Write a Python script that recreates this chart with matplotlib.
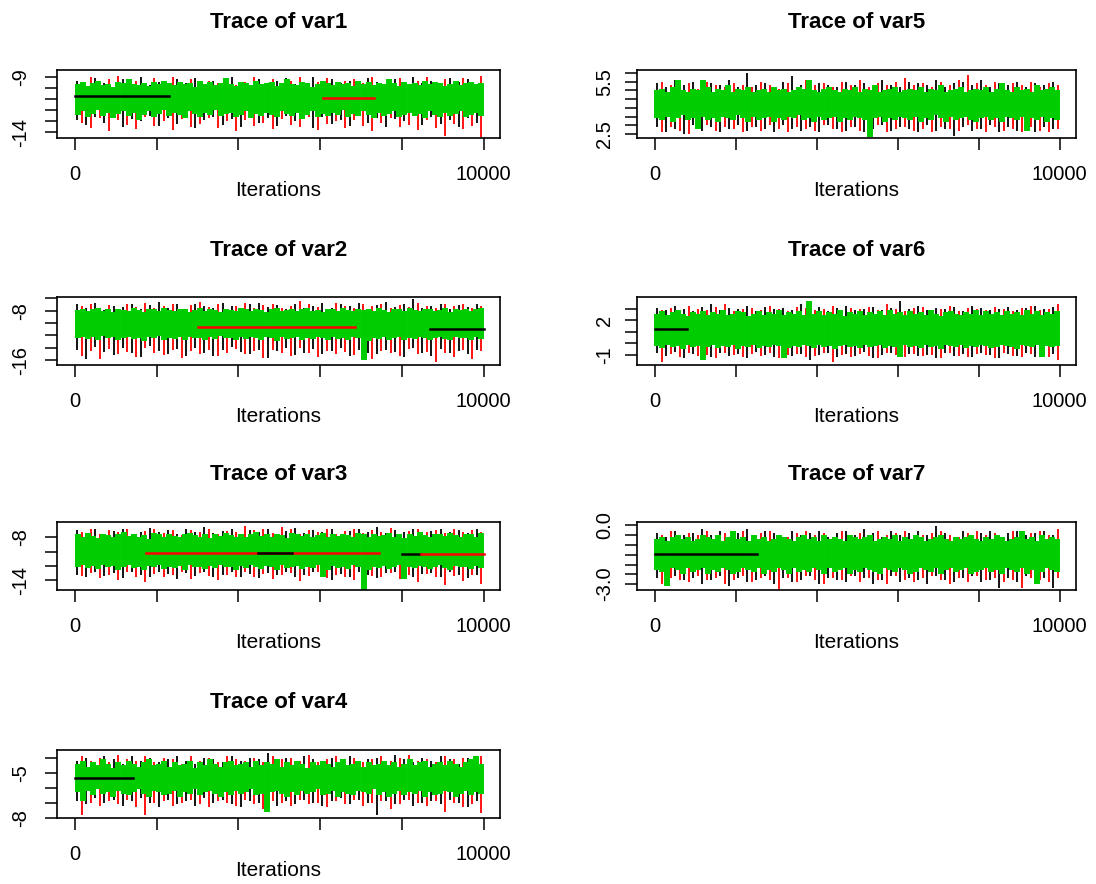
import numpy as np
import matplotlib
matplotlib.use("Agg")
import matplotlib.pyplot as plt

plt.rcParams["font.family"] = ["Liberation Sans", "DejaVu Sans"]

# 10000 iterations, three chains per variable: black, red, green.
# At this width every chain is a dense band, so each chain is kept as the
# highest / lowest value it reaches in consecutive blocks of iterations.
n_iter = 10000
x_ticks = [0, 2000, 4000, 6000, 8000, 10000]
x_tick_labels = ["0", "", "", "", "", "10000"]

var1_green_hi = [-9.6, -9.4, -9.8, -9.5, -9.3, -9.7, -9.6, -9.9, -9.4, -9.5,
                 -9.2, -9.6, -9.7, -9.5, -9.8, -9.4, -9.6, -9.3, -9.5, -9.7,
                 -9.4, -9.6, -9.5, -9.9, -9.3, -9.6, -9.4, -9.7, -9.5, -9.1,
                 -9.6, -9.8, -9.4, -9.5, -9.7, -9.3, -9.6, -9.5, -9.4, -9.8,
                 -9.5, -9.2, -9.6, -9.7, -9.4, -9.5, -9.9, -9.6, -9.3, -9.5,
                 -9.7, -9.4, -9.6, -9.5, -9.8, -9.3, -9.6, -9.4, -9.7, -9.5,
                 -9.6, -9.2, -9.5, -9.8, -9.4, -9.6, -9.5, -9.7, -9.3, -9.6,
                 -9.4, -9.5, -9.8, -9.6, -9.3, -9.7, -9.5, -9.4, -9.6, -9.5]
var1_green_lo = [-12.4, -12.1, -12.6, -12.3, -12.0, -12.5, -12.2, -12.7, -12.3, -12.1,
                 -12.5, -12.2, -12.9, -12.4, -12.1, -12.6, -12.3, -12.0, -12.5, -12.2,
                 -12.4, -12.7, -12.1, -12.3, -12.6, -12.2, -12.4, -12.0, -12.5, -12.3,
                 -12.2, -12.6, -12.4, -12.1, -12.7, -12.3, -12.5, -12.2, -12.4, -12.6,
                 -12.1, -12.3, -12.5, -12.2, -12.8, -12.4, -12.1, -12.6, -12.3, -12.5,
                 -12.2, -12.4, -12.0, -12.6, -12.3, -12.5, -12.1, -12.4, -12.7, -12.2,
                 -12.5, -12.3, -12.1, -12.6, -12.4, -12.2, -12.5, -12.3, -12.7, -12.1,
                 -12.4, -12.6, -12.2, -12.5, -12.3, -12.1, -12.6, -12.4, -12.2, -12.5]
var1_black_hi = [-9.3, -9.8, -9.1, -9.5, -10.0, -9.2, -9.6, -9.0, -9.7, -9.4,
                 -9.9, -9.2, -9.5, -9.1, -9.8, -9.3, -9.6, -9.0, -9.4, -9.7,
                 -9.2, -9.9, -9.3, -9.1, -9.6, -9.4, -9.0, -9.8, -9.2, -9.5,
                 -9.3, -9.7, -9.1, -9.4, -9.9, -9.2, -9.6, -9.0, -9.5, -9.3,
                 -9.8, -9.1, -9.4, -9.2, -9.6]
var1_black_lo = [-12.9, -13.3, -12.6, -13.1, -12.4, -13.5, -12.8, -13.0, -12.5, -13.4,
                 -12.7, -13.2, -12.3, -13.6, -12.9, -12.6, -13.3, -12.8, -13.5, -12.4,
                 -13.1, -12.7, -13.4, -12.5, -13.0, -12.8, -13.6, -12.6, -13.2, -12.9,
                 -13.4, -12.5, -13.1, -12.7, -13.5, -12.8, -13.0, -12.4, -13.3, -12.6,
                 -13.2, -12.9, -13.5, -12.7, -13.1]
var1_red_hi = [-9.5, -9.0, -9.7, -9.2, -8.9, -9.6, -9.3, -9.8, -9.1, -9.4,
               -9.0, -9.6, -9.2, -9.9, -9.3, -9.5, -9.1, -9.7, -9.4, -9.0,
               -9.8, -9.2, -9.5, -9.3, -9.0, -9.6, -9.4, -9.1, -9.7, -9.3,
               -9.2, -9.5, -9.0, -9.8, -9.4, -9.1, -9.6, -9.3, -9.0, -9.5,
               -9.2, -9.7, -9.1, -9.4, -8.9]
var1_red_lo = [-13.1, -13.6, -12.7, -13.9, -12.9, -13.3, -13.7, -12.6, -13.4, -13.0,
               -13.8, -12.8, -13.5, -13.2, -12.7, -13.6, -13.0, -13.9, -12.9, -13.4,
               -13.1, -13.7, -12.8, -13.3, -13.5, -12.6, -13.8, -13.2, -13.0, -13.6,
               -12.9, -13.4, -13.9, -13.1, -12.7, -13.5, -13.3, -13.8, -12.9, -13.6,
               -14.3, -13.2, -13.7, -13.4, -14.4]

var2_green_hi = [-7.9, -7.7, -8.1, -7.8, -7.6, -8.0, -7.8, -8.3, -7.7, -7.9,
                 -8.0, -7.6, -7.9, -8.2, -7.8, -7.7, -8.0, -7.5, -7.9, -8.1,
                 -7.8, -7.7, -8.2, -7.9, -7.6, -8.0, -7.8, -7.9, -8.3, -7.7,
                 -7.9, -8.0, -7.6, -7.8, -8.1, -7.7, -7.9, -8.2, -7.8, -7.6,
                 -8.0, -7.9, -7.7, -8.1, -7.8, -7.6, -8.0, -7.9, -8.2, -7.7,
                 -7.8, -8.0, -7.6, -7.9, -8.1, -7.7, -7.9, -7.8, -8.0, -7.6,
                 -7.9, -8.2, -7.7, -7.8, -8.0, -7.6, -7.9, -8.1, -7.8, -7.7,
                 -8.0, -7.9, -7.6, -8.2, -7.8, -7.9, -7.7, -8.0, -7.8, -7.6]
var2_green_lo = [-12.4, -12.2, -12.6, -12.3, -12.7, -12.1, -12.5, -12.3, -12.8, -12.4,
                 -12.2, -12.6, -12.4, -12.9, -12.3, -12.5, -12.1, -12.7, -12.4, -12.6,
                 -12.3, -12.8, -12.2, -12.5, -12.4, -12.7, -12.3, -12.6, -12.1, -12.5,
                 -12.4, -12.8, -12.3, -12.6, -12.2, -12.5, -12.7, -12.3, -12.4, -12.9,
                 -12.2, -12.6, -12.5, -12.3, -12.7, -12.4, -12.6, -12.2, -12.5, -12.8,
                 -12.3, -12.6, -12.4, -12.7, -12.2, -12.5, -16.0, -12.9, -12.4, -12.6,
                 -12.3, -12.7, -12.5, -12.2, -12.8, -12.4, -12.6, -12.3, -12.5, -12.7,
                 -12.4, -12.2, -12.6, -12.8, -12.3, -12.5, -12.4, -12.7, -12.3, -12.6]
var2_black_hi = [-7.0, -7.6, -6.8, -7.9, -7.2, -7.4, -6.9, -7.7, -7.1, -6.6,
                 -7.5, -7.0, -7.8, -6.9, -7.3, -7.6, -6.7, -7.2, -7.9, -7.0,
                 -6.8, -7.4, -7.1, -7.7, -6.9, -7.5, -7.2, -6.7, -7.6, -7.0,
                 -7.3, -6.8, -7.8, -7.1, -6.6, -7.4, -7.0, -6.2, -7.5, -7.2,
                 -6.9, -7.7, -7.1, -7.4, -7.0]
var2_black_lo = [-14.3, -15.8, -13.9, -14.7, -15.2, -14.1, -14.9, -15.5, -13.8, -14.6,
                 -15.0, -14.2, -15.4, -14.0, -14.8, -15.3, -14.4, -13.9, -14.7, -15.1,
                 -14.3, -15.6, -14.5, -14.0, -15.2, -14.8, -14.2, -15.0, -14.6, -14.1,
                 -15.4, -14.4, -14.9, -15.1, -14.3, -14.7, -15.5, -14.0, -14.8, -15.3,
                 -14.2, -14.9, -14.5, -15.0, -14.4]
var2_red_hi = [-7.3, -6.9, -7.6, -7.1, -7.8, -7.0, -7.4, -6.8, -7.5, -7.2,
               -6.9, -7.7, -7.1, -6.6, -7.4, -7.0, -7.8, -7.2, -6.7, -7.5,
               -7.1, -6.9, -7.6, -7.3, -6.4, -7.0, -7.4, -7.7, -6.8, -7.2,
               -7.5, -7.0, -7.3, -6.9, -7.6, -7.1, -7.4, -6.8, -7.2, -7.5,
               -7.0, -7.3, -6.9, -7.6, -7.2]
var2_red_lo = [-15.3, -14.5, -15.9, -14.2, -15.0, -14.7, -15.5, -14.1, -14.9, -15.2,
               -14.4, -15.7, -14.6, -15.0, -14.3, -15.4, -14.8, -14.2, -15.1, -14.6,
               -15.6, -14.4, -14.9, -15.3, -14.1, -14.8, -15.5, -14.5, -15.0, -14.7,
               -15.2, -14.3, -15.8, -14.6, -14.9, -15.4, -14.2, -15.1, -14.7, -16.3,
               -14.9, -15.5, -14.4, -15.8, -14.6]

var3_green_hi = [-7.6, -7.9, -7.4, -7.8, -8.1, -7.5, -7.7, -8.0, -7.6, -7.3,
                 -7.8, -7.5, -7.9, -7.7, -8.2, -7.4, -7.6, -7.9, -7.5, -7.8,
                 -8.0, -7.6, -7.4, -7.7, -7.9, -7.5, -8.1, -7.6, -7.8, -7.4,
                 -7.7, -7.9, -7.5, -8.0, -7.6, -7.3, -7.8, -7.6, -7.9, -7.5,
                 -7.7, -8.1, -7.4, -7.6, -7.8, -7.5, -7.9, -7.7, -7.4, -8.0,
                 -7.6, -7.8, -7.5, -7.7, -7.9, -7.4, -7.6, -8.0, -7.5, -7.8,
                 -7.7, -7.4, -7.9, -7.6, -8.1, -7.5, -7.8, -7.3, -7.7, -7.9,
                 -7.6, -7.5, -7.8, -7.4, -7.7, -8.0, -7.5, -7.6, -7.9, -7.4]
var3_green_lo = [-12.1, -11.9, -12.3, -12.0, -12.4, -11.8, -12.2, -12.0, -12.5, -12.1,
                 -11.9, -12.3, -12.1, -12.6, -12.0, -12.2, -11.8, -12.4, -12.1, -12.3,
                 -12.0, -12.5, -11.9, -12.2, -12.1, -12.4, -12.0, -12.3, -11.8, -12.2,
                 -12.1, -12.5, -12.0, -12.3, -11.9, -12.2, -12.4, -12.0, -12.1, -12.6,
                 -11.9, -12.3, -12.2, -12.0, -12.4, -12.1, -12.3, -11.9, -13.5, -12.5,
                 -12.0, -12.3, -12.1, -12.4, -11.9, -12.2, -15.3, -12.6, -12.1, -12.3,
                 -12.0, -12.4, -12.2, -11.9, -13.8, -12.1, -12.3, -12.0, -12.2, -12.4,
                 -12.1, -11.9, -12.3, -12.5, -12.0, -12.2, -12.1, -12.4, -12.0, -12.3]
var3_black_hi = [-7.0, -7.4, -6.8, -7.6, -7.1, -6.9, -7.5, -7.2, -6.7, -7.3,
                 -7.0, -7.6, -6.9, -7.2, -6.6, -7.4, -7.1, -6.8, -7.5, -7.0,
                 -7.3, -6.9, -7.6, -7.1, -6.7, -7.4, -7.0, -7.2, -6.8, -7.5,
                 -7.1, -6.9, -7.3, -6.6, -7.4, -7.0, -7.2, -6.8, -7.5, -7.1,
                 -6.9, -7.3, -7.0, -7.4, -6.8]
var3_black_lo = [-13.2, -13.6, -12.9, -13.4, -13.0, -13.7, -12.8, -13.3, -13.5, -12.9,
                 -13.1, -13.8, -13.0, -13.4, -12.8, -13.6, -13.2, -12.9, -13.5, -13.1,
                 -13.7, -13.0, -13.3, -12.8, -13.6, -13.2, -12.9, -13.4, -14.0, -13.1,
                 -13.5, -12.9, -13.3, -13.7, -13.0, -12.8, -13.4, -13.6, -13.1, -13.0,
                 -13.5, -12.9, -13.3, -13.7, -13.2]
var3_red_hi = [-7.2, -6.9, -7.5, -7.0, -7.3, -6.8, -7.6, -7.1, -6.9, -7.4,
               -7.0, -7.7, -7.0, -7.2, -6.9, -7.5, -7.1, -7.3, -6.4, -7.0,
               -6.8, -7.4, -6.5, -6.9, -7.6, -7.0, -7.3, -6.8, -7.5, -7.1,
               -6.9, -7.4, -7.0, -7.2, -6.7, -7.5, -7.1, -6.8, -7.3, -7.0,
               -7.4, -6.9, -7.2, -7.0, -7.3]
var3_red_lo = [-13.4, -13.0, -13.7, -13.2, -13.9, -12.9, -13.5, -14.2, -13.1, -13.6,
               -13.3, -12.9, -13.8, -13.0, -13.4, -14.0, -13.2, -13.6, -12.9, -13.5,
               -13.1, -13.8, -13.3, -13.0, -14.1, -13.4, -12.9, -13.7, -13.2, -13.5,
               -13.9, -13.1, -13.4, -13.6, -13.0, -13.8, -13.3, -14.3, -13.1, -13.6,
               -14.7, -13.4, -14.1, -13.2, -14.5]

var4_green_hi = [-4.4, -4.2, -4.6, -4.3, -4.5, -4.1, -4.4, -4.7, -4.3, -4.5,
                 -4.2, -4.4, -4.6, -4.3, -4.1, -4.5, -4.4, -4.2, -4.6, -4.3,
                 -4.5, -4.4, -4.2, -4.7, -4.3, -4.5, -4.1, -4.4, -4.6, -4.3,
                 -4.2, -4.5, -4.4, -4.3, -4.6, -4.2, -4.5, -4.3, -4.4, -4.1,
                 -4.6, -4.3, -4.5, -4.2, -4.4, -4.7, -4.3, -4.5, -4.2, -4.4,
                 -4.6, -4.3, -4.1, -4.5, -4.4, -4.2, -4.6, -4.3, -4.5, -4.4,
                 -4.2, -4.5, -4.3, -4.6, -4.4, -4.1, -4.5, -4.3, -4.2, -4.6,
                 -4.4, -4.3, -4.5, -4.2, -4.4, -4.6, -4.3, -4.1, -3.9, -4.4]
var4_green_lo = [-6.3, -6.9, -6.2, -6.5, -6.1, -6.4, -6.3, -6.6, -6.2, -6.4,
                 -6.5, -6.3, -6.1, -6.4, -6.6, -6.2, -6.3, -6.5, -6.4, -6.2,
                 -6.6, -6.3, -6.4, -6.1, -6.5, -6.3, -6.2, -6.4, -6.6, -6.3,
                 -6.5, -6.2, -6.4, -6.3, -6.1, -6.5, -6.4, -7.6, -6.3, -6.2,
                 -6.4, -6.6, -6.3, -6.5, -6.2, -6.4, -6.3, -6.1, -6.5, -6.4,
                 -6.2, -6.6, -6.3, -6.4, -6.5, -6.2, -6.3, -6.4, -6.1, -6.5,
                 -6.3, -6.6, -6.4, -6.2, -6.5, -6.3, -6.4, -6.2, -6.6, -6.3,
                 -6.5, -6.4, -6.2, -6.3, -6.6, -6.4, -6.2, -6.5, -6.3, -6.4]
var4_black_hi = [-4.2, -4.0, -4.3, -3.9, -4.1, -4.4, -3.9, -4.2, -4.0, -4.3,
                 -4.1, -3.9, -4.2, -4.4, -4.0, -4.1, -4.3, -3.9, -4.2, -4.0,
                 -4.1, -3.7, -4.3, -4.0, -4.2, -3.9, -4.1, -4.4, -4.0, -4.2,
                 -3.9, -4.3, -4.1, -4.0, -4.2, -3.8, -4.1, -4.3, -4.0, -4.2,
                 -3.9, -4.1, -4.4, -4.0, -3.9]
var4_black_lo = [-6.9, -7.1, -6.7, -7.0, -6.8, -7.2, -6.9, -6.7, -7.0, -7.3,
                 -6.8, -7.1, -6.9, -7.2, -6.7, -7.0, -6.8, -7.1, -7.3, -6.9,
                 -7.0, -6.7, -7.2, -6.9, -7.1, -6.8, -7.0, -7.2, -6.9, -6.7,
                 -7.1, -6.8, -7.0, -7.8, -6.9, -7.1, -6.8, -7.2, -7.0, -6.9,
                 -7.1, -6.8, -7.0, -7.3, -6.9]
var4_red_hi = [-3.9, -4.2, -4.0, -4.3, -3.8, -4.1, -4.2, -3.9, -4.3, -4.0,
               -4.1, -4.4, -3.9, -4.2, -4.0, -4.3, -3.9, -4.1, -4.2, -4.0,
               -4.3, -3.9, -4.1, -4.0, -4.2, -3.8, -4.3, -4.1, -3.9, -4.2,
               -4.0, -4.3, -4.1, -3.9, -4.2, -4.0, -3.8, -4.2, -4.1, -4.3,
               -3.9, -4.1, -4.0, -4.2, -3.9]
var4_red_lo = [-7.8, -7.0, -7.2, -6.9, -7.1, -6.8, -7.3, -7.8, -7.0, -6.9,
               -7.2, -7.0, -6.8, -7.1, -7.3, -6.9, -7.0, -7.2, -6.8, -7.1,
               -7.4, -6.9, -7.0, -7.2, -6.8, -7.1, -7.0, -7.3, -6.9, -7.1,
               -6.8, -7.2, -7.0, -6.9, -7.4, -7.1, -6.8, -7.0, -7.2, -6.9,
               -7.6, -7.0, -7.3, -7.1, -7.7]

var5_green_hi = [5.0, 5.1, 4.9, 5.2, 5.6, 5.0, 4.9, 5.1, 5.0, 5.6,
                 5.2, 4.9, 5.1, 5.0, 5.3, 4.9, 5.1, 5.0, 5.2, 4.9,
                 5.0, 5.1, 4.9, 5.2, 5.0, 5.1, 4.9, 5.0, 5.2, 5.1,
                 5.6, 5.0, 4.9, 5.1, 5.2, 5.0, 4.9, 5.1, 5.0, 5.2,
                 4.9, 5.1, 5.0, 5.3, 4.9, 5.0, 5.1, 5.2, 4.9, 5.0,
                 5.1, 5.0, 5.2, 4.9, 5.1, 5.0, 5.3, 4.9, 5.0, 5.1,
                 5.2, 4.9, 5.0, 5.1, 5.0, 5.2, 4.9, 5.1, 5.4, 5.0,
                 4.9, 5.2, 5.0, 5.1, 4.9, 5.3, 5.0, 5.1, 5.2, 5.0]
var5_green_lo = [3.4, 3.3, 3.5, 3.2, 3.4, 3.6, 3.3, 3.4, 2.8, 3.5,
                 3.3, 3.4, 3.2, 3.5, 3.4, 3.3, 3.6, 3.4, 3.2, 3.5,
                 3.3, 3.4, 3.5, 3.2, 3.4, 3.3, 3.5, 3.4, 3.6, 3.3,
                 3.4, 3.2, 3.5, 3.3, 3.4, 3.5, 3.2, 3.4, 3.3, 3.5,
                 3.4, 3.3, 2.3, 3.4, 3.5, 3.2, 3.4, 3.3, 3.5, 3.4,
                 3.3, 3.5, 3.2, 3.4, 3.3, 3.6, 3.4, 3.2, 3.5, 3.3,
                 3.4, 3.5, 3.3, 3.2, 3.4, 3.5, 3.3, 3.4, 3.2, 3.5,
                 3.4, 3.3, 3.5, 2.7, 3.4, 3.3, 3.5, 3.2, 3.4, 3.3]
var5_black_hi = [5.4, 5.2, 5.6, 5.3, 5.5, 5.1, 5.4, 5.3, 5.6, 5.2,
                 6.0, 5.3, 5.4, 5.2, 5.5, 5.8, 5.3, 5.1, 5.4, 5.3,
                 5.2, 5.5, 5.3, 5.4, 5.1, 5.6, 5.3, 5.2, 5.5, 5.4,
                 5.3, 5.6, 5.2, 5.4, 5.5, 5.3, 5.6, 5.2, 5.4, 5.3,
                 5.5, 5.2, 5.4, 5.3, 5.5]
var5_black_lo = [2.9, 2.6, 2.8, 2.5, 3.0, 2.7, 2.9, 2.6, 2.8, 3.0,
                 2.7, 2.9, 2.8, 2.6, 3.0, 2.8, 2.7, 2.9, 2.6, 3.0,
                 2.8, 2.7, 2.9, 2.6, 2.8, 3.0, 2.7, 2.9, 2.8, 2.6,
                 3.0, 2.7, 2.8, 2.4, 2.9, 2.7, 2.8, 3.0, 2.6, 2.9,
                 2.7, 2.8, 2.6, 2.9, 2.8]
var5_red_hi = [5.5, 5.3, 5.2, 5.4, 5.1, 5.5, 5.3, 5.2, 5.4, 5.3,
               5.2, 5.5, 5.3, 5.1, 5.4, 5.2, 5.6, 5.3, 5.4, 5.2,
               5.5, 5.3, 5.6, 5.2, 5.4, 5.3, 5.5, 5.7, 5.3, 5.4,
               5.2, 5.5, 5.3, 5.6, 5.9, 5.4, 5.3, 5.5, 5.2, 5.4,
               5.3, 5.5, 5.2, 5.4, 5.3]
var5_red_lo = [2.6, 2.9, 2.7, 2.5, 2.8, 3.0, 2.7, 2.9, 2.8, 2.6,
               2.9, 2.7, 3.0, 2.8, 2.6, 2.9, 2.8, 2.7, 3.0, 2.8,
               2.6, 2.9, 2.7, 2.8, 3.0, 2.6, 2.8, 2.9, 2.7, 2.8,
               2.6, 2.9, 2.8, 2.7, 3.0, 2.8, 2.6, 2.9, 2.7, 2.8,
               2.6, 2.9, 2.7, 2.6, 2.8]

var6_green_hi = [2.6, 2.8, 2.5, 2.7, 2.9, 2.6, 2.4, 2.7, 2.6, 2.8,
                 2.5, 2.7, 2.6, 2.9, 2.5, 2.6, 2.8, 2.7, 2.4, 2.6,
                 2.8, 2.5, 2.7, 2.6, 2.9, 2.5, 2.7, 2.6, 2.8, 2.5,
                 3.7, 2.6, 2.8, 2.5, 2.7, 2.6, 2.9, 2.4, 2.7, 2.6,
                 2.8, 2.5, 2.7, 2.6, 2.8, 2.5, 2.9, 2.6, 2.7, 2.5,
                 2.8, 2.6, 2.7, 2.5, 2.9, 2.6, 2.4, 2.7, 2.8, 2.6,
                 2.5, 2.7, 2.6, 2.9, 2.5, 2.8, 2.6, 2.7, 2.5, 2.8,
                 2.6, 2.7, 2.5, 2.9, 2.6, 2.8, 2.5, 2.7, 2.6, 2.8]
var6_green_lo = [-0.2, -0.4, -0.1, -0.3, -0.2, -0.5, -0.1, -0.3, -0.2, -1.4,
                 -0.3, -0.1, -0.4, -0.2, -0.3, -0.1, -0.5, -0.2, -0.3, -0.1,
                 -0.4, -0.2, -0.3, -0.1, -0.2, -1.3, -0.4, -0.2, -0.3, -0.1,
                 -0.2, -0.4, -0.1, -0.3, -0.2, -0.5, -0.2, -0.1, -0.3, -0.2,
                 -0.4, -0.1, -0.3, -0.2, -0.1, -0.4, -0.2, -0.3, -1.2, -0.1,
                 -0.3, -0.2, -0.4, -0.1, -0.3, -0.2, -0.5, -0.1, -0.2, -0.3,
                 -0.1, -0.4, -0.2, -0.3, -0.1, -0.2, -0.4, -0.3, -0.1, -0.2,
                 -0.3, -0.5, -0.1, -0.2, -0.3, -0.1, -1.2, -0.2, -0.3, -0.2]
var6_black_hi = [3.1, 2.9, 3.3, 3.0, 2.8, 3.2, 3.4, 2.9, 3.1, 3.0,
                 3.3, 2.8, 3.2, 3.0, 3.1, 2.9, 3.4, 3.0, 3.2, 2.8,
                 3.1, 3.3, 2.9, 3.0, 3.2, 2.9, 3.1, 3.7, 3.0, 3.3,
                 2.9, 3.1, 3.0, 3.2, 2.8, 3.3, 3.1, 2.9, 3.0, 3.2,
                 2.9, 3.1, 3.3, 3.0, 3.2]
var6_black_lo = [-0.8, -1.1, -0.7, -1.3, -0.9, -1.0, -1.2, -0.8, -1.1, -0.9,
                 -1.3, -0.7, -1.0, -1.2, -0.8, -1.1, -0.9, -1.4, -1.0, -0.8,
                 -1.2, -0.9, -1.1, -0.7, -1.3, -1.0, -0.8, -1.2, -0.9, -1.1,
                 -1.0, -1.3, -0.8, -1.1, -0.9, -1.2, -0.8, -1.0, -1.3, -0.9,
                 -1.1, -0.8, -1.2, -1.0, -0.9]
var6_red_hi = [2.9, 3.1, 2.8, 3.3, 3.0, 2.9, 3.2, 3.4, 2.8, 3.0,
               3.1, 2.9, 3.3, 3.0, 2.8, 3.2, 3.1, 2.9, 3.0, 3.3,
               2.8, 3.1, 3.0, 3.2, 2.9, 3.4, 3.0, 2.8, 3.1, 3.2,
               2.9, 3.0, 3.3, 2.8, 3.1, 3.0, 2.9, 3.2, 3.0, 2.8,
               3.1, 3.3, 2.9, 3.0, 3.4]
var6_red_lo = [-1.6, -0.9, -1.2, -0.8, -1.1, -1.0, -1.3, -0.8, -1.0, -1.2,
               -0.9, -1.1, -0.8, -1.3, -1.0, -0.9, -1.2, -1.1, -0.8, -1.6,
               -1.0, -1.2, -0.9, -1.1, -1.3, -0.8, -1.0, -1.2, -0.9, -1.1,
               -1.0, -1.3, -0.8, -1.1, -1.2, -0.9, -1.0, -1.3, -0.8, -1.1,
               -1.2, -0.9, -1.0, -1.2, -1.4]

var7_green_hi = [-0.7, -0.6, -0.8, -0.6, -0.5, -0.7, -0.6, -0.8, -0.7, -0.5,
                 -0.6, -0.7, -0.5, -0.8, -0.6, -0.3, -0.7, -0.6, -0.8, -0.5,
                 -0.7, -0.6, -0.8, -0.7, -0.5, -0.6, -0.7, -0.8, -0.6, -0.5,
                 -0.7, -0.6, -0.8, -0.5, -0.7, -0.6, -0.7, -0.8, -0.5, -0.6,
                 -0.7, -0.6, -0.5, -0.8, -0.7, -0.6, -0.7, -0.5, -0.8, -0.6,
                 -0.7, -0.5, -0.6, -0.8, -0.7, -0.6, -0.5, -0.7, -0.8, -0.6,
                 -0.7, -0.6, -0.5, -0.7, -0.8, -0.6, -0.7, -0.5, -0.6, -0.8,
                 -0.7, -0.6, -0.3, -0.7, -0.6, -0.8, -0.5, -0.7, -0.6, -0.7]
var7_green_lo = [-2.3, -2.4, -3.1, -2.2, -2.3, -2.5, -2.2, -2.4, -2.3, -2.2,
                 -2.5, -2.3, -2.4, -2.2, -2.3, -2.5, -2.4, -2.2, -2.3, -2.4,
                 -2.2, -2.5, -2.3, -2.4, -2.2, -2.3, -2.5, -2.2, -2.4, -2.3,
                 -2.4, -2.2, -2.3, -2.5, -2.2, -2.4, -2.3, -2.2, -2.5, -2.3,
                 -2.4, -2.2, -2.3, -2.4, -2.5, -2.2, -2.3, -2.4, -2.2, -2.3,
                 -2.5, -2.4, -2.2, -2.3, -2.4, -2.2, -2.5, -2.3, -2.2, -2.4,
                 -2.3, -2.2, -2.5, -2.4, -2.3, -2.2, -2.4, -2.3, -2.5, -2.2,
                 -2.3, -2.4, -2.2, -2.5, -2.3, -3.0, -2.4, -2.2, -2.3, -2.4]
var7_black_hi = [-0.4, -0.6, -0.3, -0.5, -0.4, -0.2, -0.5, -0.3, -0.6, -0.4,
                 -0.2, -0.5, -0.3, -0.4, -0.6, -0.3, -0.5, -0.4, -0.3, -0.6,
                 -0.4, -0.3, -0.5, -0.2, -0.4, -0.6, -0.3, -0.5, -0.4, -0.3,
                 -0.5, -0.05, -0.4, -0.6, -0.3, -0.5, -0.4, -0.3, -0.6, -0.4,
                 -0.3, -0.5, -0.4, -0.3, -0.5]
var7_black_lo = [-2.7, -2.9, -2.6, -2.8, -2.7, -3.0, -2.8, -2.6, -3.1, -2.7,
                 -2.9, -2.8, -2.6, -3.0, -2.7, -2.9, -2.8, -2.6, -3.0, -2.7,
                 -2.8, -2.9, -2.6, -2.7, -3.0, -2.8, -2.6, -2.9, -2.7, -2.8,
                 -3.0, -2.6, -2.8, -2.9, -2.7, -2.6, -2.9, -2.8, -3.2, -2.7,
                 -2.9, -2.6, -2.8, -2.7, -3.2]
var7_red_hi = [-0.5, -0.3, -0.6, -0.4, -0.5, -0.3, -0.7, -0.4, -0.5, -0.3,
               -0.6, -0.4, -0.3, -0.5, -0.6, -0.4, -0.3, -0.5, -0.4, -0.6,
               -0.3, -0.5, -0.4, -0.6, -0.3, -0.5, -0.4, -0.3, -0.6, -0.5,
               -0.4, -0.3, -0.5, -0.6, -0.4, -0.3, -0.5, -0.4, -0.6, -0.3,
               -0.5, -0.4, -0.3, -0.5, -0.2]
var7_red_lo = [-3.0, -2.7, -2.8, -2.9, -2.6, -2.8, -2.7, -3.0, -2.8, -2.6,
               -2.9, -2.7, -2.8, -3.3, -2.7, -2.9, -2.6, -2.8, -3.0, -2.7,
               -2.8, -2.6, -2.9, -2.7, -2.8, -3.0, -2.6, -2.8, -2.9, -2.7,
               -2.6, -2.8, -3.0, -2.7, -2.9, -2.6, -2.8, -2.7, -2.9, -2.8,
               -3.2, -2.7, -2.8, -2.9, -2.7]

# stretches where a chain sits at one value: (variable, chain, first iter, last iter, value)
stuck_runs = [
    ("var1", 0, 1, 2300, -10.7),
    ("var1", 1, 6070, 7310, -10.86),
    ("var2", 1, 3000, 6850, -10.67),
    ("var2", 0, 8680, 10000, -10.93),
    ("var3", 1, 1750, 7430, -10.14),
    ("var3", 0, 4490, 5320, -10.14),
    ("var3", 0, 8010, 8470, -10.4),
    ("var3", 1, 8470, 10000, -10.4),
    ("var4", 0, 1, 1425, -5.33),
    ("var6", 0, 1, 790, 1.27),
    ("var7", 0, 1, 2520, -1.48),
]

# y axes: tick values and the labels R kept
var1_yticks, var1_ylabels = [-14, -13, -12, -11, -10, -9], ["-14", "", "", "", "", "-9"]
var2_yticks, var2_ylabels = [-16, -14, -12, -10, -8, -6], ["-16", "", "", "", "-8", ""]
var3_yticks, var3_ylabels = [-14, -12, -10, -8], ["-14", "", "", "-8"]
var4_yticks, var4_ylabels = [-8, -7, -6, -5, -4], ["-8", "", "", "-5", ""]
var5_yticks = [2.5, 3.0, 3.5, 4.0, 4.5, 5.0, 5.5, 6.0]
var5_ylabels = ["2.5", "", "", "", "", "", "5.5", ""]
var6_yticks, var6_ylabels = [-1, 0, 1, 2, 3], ["-1", "", "", "2", ""]
var7_yticks = [-3.0, -2.5, -2.0, -1.5, -1.0, -0.5, 0.0]
var7_ylabels = ["-3.0", "", "", "", "", "", "0.0"]

panels = [
    ("var1", 0, 0, [(var1_black_lo, var1_black_hi), (var1_red_lo, var1_red_hi), (var1_green_lo, var1_green_hi)],
     (-14.5, -8.35), var1_yticks, var1_ylabels),
    ("var2", 0, 1, [(var2_black_lo, var2_black_hi), (var2_red_lo, var2_red_hi), (var2_green_lo, var2_green_hi)],
     (-16.8, -5.8), var2_yticks, var2_ylabels),
    ("var3", 0, 2, [(var3_black_lo, var3_black_hi), (var3_red_lo, var3_red_hi), (var3_green_lo, var3_green_hi)],
     (-15.36, -5.86), var3_yticks, var3_ylabels),
    ("var4", 0, 3, [(var4_black_lo, var4_black_hi), (var4_red_lo, var4_red_hi), (var4_green_lo, var4_green_hi)],
     (-8.0, -3.47), var4_yticks, var4_ylabels),
    ("var5", 1, 0, [(var5_black_lo, var5_black_hi), (var5_red_lo, var5_red_hi), (var5_green_lo, var5_green_hi)],
     (2.27, 6.17), var5_yticks, var5_ylabels),
    ("var6", 1, 1, [(var6_black_lo, var6_black_hi), (var6_red_lo, var6_red_hi), (var6_green_lo, var6_green_hi)],
     (-1.87, 4.04), var6_yticks, var6_ylabels),
    ("var7", 1, 2, [(var7_black_lo, var7_black_hi), (var7_red_lo, var7_red_hi), (var7_green_lo, var7_green_hi)],
     (-3.3, 0.17), var7_yticks, var7_ylabels),
]

chain_colors = ["#000000", "#FF0000", "#00CD00"]
chain_lw = [1.3, 1.3, 4.3]
chain_offset = [0.25, 0.75, 0.5]   # where in its block each chain's stroke sits

W, H = 1096, 884
col_x = [57, 637]
col_w = [443, 439]
row_top = [70, 297, 522, 750]
box_h = 68
ylabel_pad = [11, 8]

fig = plt.figure(figsize=(W / 100, H / 100), dpi=100)

for name, col, row, chains, ylim, yticks, ylabels in panels:
    x0, w, top = col_x[col], col_w[col], row_top[row]
    ax = fig.add_axes([x0 / W, 1 - (top + box_h) / H, w / W, box_h / H])

    for (lo, hi), color, lw, off in zip(chains, chain_colors, chain_lw, chain_offset):
        n = len(hi)
        iters = (np.arange(n) + off) * n_iter / n
        ax.vlines(iters, lo, hi, color=color, lw=lw, capstyle="butt")
    for var, chain, start, end, level in stuck_runs:
        if var == name:
            ax.plot([start, end], [level, level], color=chain_colors[chain], lw=1.8)

    ax.set_xlim(-440, 10400)
    ax.set_ylim(*ylim)
    ax.set_xticks(x_ticks)
    ax.set_xticklabels(x_tick_labels)
    ax.set_yticks(yticks)
    ax.set_yticklabels(ylabels, rotation=90, va="center")
    ax.tick_params(axis="x", length=8.6, width=1.1, pad=11, labelsize=14.5)
    ax.tick_params(axis="y", length=8.6, width=1.1, pad=ylabel_pad[col], labelsize=14.5)
    for spine in ax.spines.values():
        spine.set_linewidth(1.2)

    cx = (x0 + w / 2) / W
    fig.text(cx, 1 - (top - 47) / H, f"Trace of {name}", ha="center", va="center",
             fontsize=16, fontweight="bold")
    fig.text(cx, 1 - (top + box_h + 52) / H, "Iterations", ha="center", va="center",
             fontsize=15)

fig.savefig("out.png", dpi=100)
